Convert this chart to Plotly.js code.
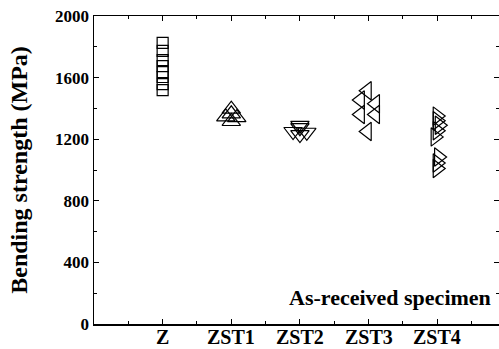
<!DOCTYPE html>
<html>
<head>
<meta charset="utf-8">
<script src="https://cdn.plot.ly/plotly-3.0.1.min.js"></script>
<style>html,body{margin:0;padding:0;background:#fff;}#chart{width:499px;height:349px;}</style>
</head>
<body>
<div id="chart"></div>
<script>
var categories = ['Z', 'ZST1', 'ZST2', 'ZST3', 'ZST4'];
var categoryPos = [1, 2, 3, 4, 5];
var yTicks = [0, 400, 800, 1200, 1600, 2000];

var zX = [1, 1, 1, 1, 1, 1, 1, 1];
var zY = [1825, 1773, 1714, 1675, 1636, 1604, 1558, 1519];

var zst1X = [2.0, 1.92, 2.08, 2.0, 2.0];
var zst1Y = [1395, 1345, 1340, 1315, 1365];

var zst2X = [3.0, 3.0, 2.9, 3.1, 3.0];
var zst2Y = [1290, 1275, 1250, 1245, 1230];

var zst3X = [3.98, 3.88, 4.1, 3.88, 4.1, 3.98];
var zst3Y = [1515, 1455, 1430, 1360, 1360, 1250];

var zst4X = [5.0, 5.0, 5.03, 5.0, 4.97, 5.02, 5.0, 5.0];
var zst4Y = [1350, 1320, 1290, 1255, 1215, 1085, 1045, 1010];

function tr(x, y, sym, size) {
  return {x: x, y: y, type: 'scatter', mode: 'markers', showlegend: false,
    marker: {symbol: sym, size: size, color: '#000', line: {color: '#000', width: 1.2}}};
}

var data = [
  tr(zX, zY, 'square-open', 11),
  tr(zst1X, zst1Y, 'triangle-up-open', 16),
  tr(zst2X, zst2Y, 'triangle-down-open', 16),
  tr(zst3X, zst3Y, 'triangle-left-open', 16),
  tr(zst4X, zst4Y, 'triangle-right-open', 16)
];

var fam = 'Times New Roman, Liberation Serif, Tinos, DejaVu Serif, serif';

var catLabels = categories.map(function (c, i) {
  return {xref: 'x', yref: 'paper', x: categoryPos[i], y: -0.043, xanchor: 'center', yanchor: 'middle',
    text: c, showarrow: false, borderpad: 0,
    font: {family: fam, size: 20, weight: 'bold', color: '#000'}};
});

var layout = {
  width: 499, height: 349,
  margin: {l: 94, r: 0, t: 16, b: 25},
  paper_bgcolor: '#fff', plot_bgcolor: '#fff',
  font: {family: fam, color: '#000'},
  xaxis: {
    range: [0, 5.9], tickmode: 'array', tickvals: categoryPos, ticktext: categories,
    showticklabels: false,
    ticks: 'inside', ticklen: 5, tickwidth: 1, tickcolor: '#000',
    showline: true, linecolor: '#000', linewidth: 1.5, mirror: 'ticks',
    showgrid: false, zeroline: false,
    minor: {tickmode: 'linear', tick0: 0.5, dtick: 1, ticks: 'inside', ticklen: 3, tickcolor: '#000', showgrid: false}
  },
  yaxis: {
    range: [0, 2000], tickmode: 'array', tickvals: yTicks,
    ticks: 'inside', ticklen: 5, tickwidth: 1, tickcolor: '#000',
    showline: true, linecolor: '#000', linewidth: 1.5, mirror: 'ticks',
    showgrid: false, zeroline: false,
    tickfont: {family: fam, size: 17, weight: 'bold', color: '#000'},
    minor: {tickmode: 'linear', tick0: 200, dtick: 400, ticks: 'inside', ticklen: 3, tickcolor: '#000', showgrid: false},
    title: {text: 'Bending strength (MPa)', standoff: 20,
      font: {family: fam, size: 24, weight: 'bold', color: '#000'}}
  },
  annotations: catLabels.concat([{
    xref: 'paper', yref: 'paper', x: 0.985, y: 0.085, xanchor: 'right', yanchor: 'middle',
    text: 'As-received specimen', showarrow: false,
    font: {family: fam, size: 22, weight: 'bold', color: '#000'}
  }])
};

Plotly.newPlot('chart', data, layout, {displayModeBar: false, staticPlot: true});
</script>
</body>
</html>
